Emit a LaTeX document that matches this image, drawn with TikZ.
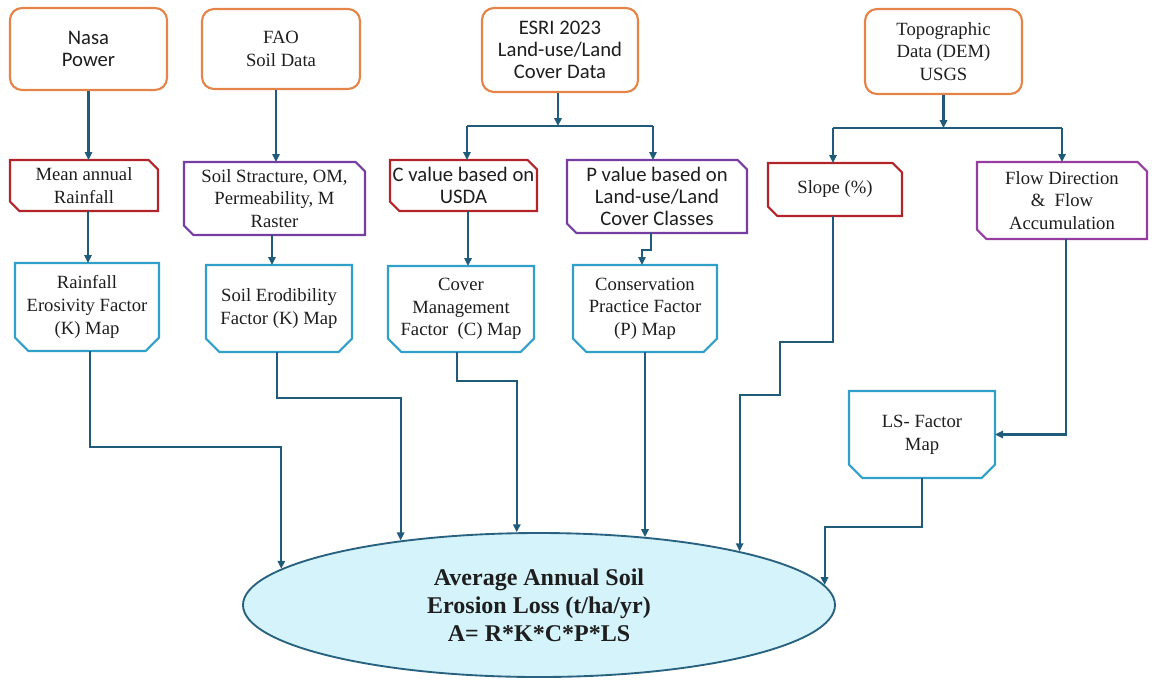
\documentclass[tikz,border=0pt]{standalone}
\usepackage{fontspec}
\setmainfont{Liberation Serif}
\newfontfamily\carl{Carlito}
\usetikzlibrary{shapes.geometric,arrows.meta,calc}
\definecolor{orng}{RGB}{228,132,72}
\definecolor{dred}{RGB}{178,36,42}
\definecolor{purp}{RGB}{118,62,162}
\definecolor{magp}{RGB}{150,62,160}
\definecolor{cyn}{RGB}{48,160,200}
\definecolor{lnk}{RGB}{32,92,122}
\definecolor{ellf}{RGB}{212,243,250}
\definecolor{elld}{RGB}{40,98,128}
\definecolor{txt}{RGB}{30,30,30}
\newcommand\tagshape[2]{% node, colour: corners cut at north east and south west
  \draw[line width=1.6pt,draw=#2,line join=miter] (#1.north west) -- ([xshift=-7pt]#1.north east) -- ([yshift=-7pt]#1.north east) -- (#1.south east) -- ([xshift=7pt]#1.south west) -- ([yshift=7pt]#1.south west) -- cycle;}
\newcommand\mapshape[1]{% node: corners cut at south east and south west
  \draw[line width=1.6pt,draw=cyn,line join=miter] (#1.north west) -- (#1.north east) -- ([yshift=10pt]#1.south east) -- ([xshift=-10pt]#1.south east) -- ([xshift=10pt]#1.south west) -- ([yshift=10pt]#1.south west) -- cycle;}
\begin{document}
\begin{tikzpicture}[x=0.75pt,y=-0.75pt,
  src/.style={rectangle,draw=orng,line width=1.6pt,rounded corners=9pt,fill=white,inner sep=2pt,align=center,text=txt},
  plain/.style={rectangle,draw=none,outer sep=0pt,inner sep=0pt,align=center,text=txt},
  ser/.style={font=\fontsize{14}{17}\selectfont},
  sans/.style={font=\carl\fontsize{15.5}{16.5}\selectfont},
  link/.style={draw=lnk,line width=1.6pt},
  arr/.style={link,-{Triangle[length=6pt,width=5.5pt]}}]
\useasboundingbox (0,0) rectangle (1152,679);
% top row
\node[src,sans,minimum width=117.75pt,minimum height=61.5pt] (nasa) at (88.5,49) {Nasa\\Power};
\node[src,ser,minimum width=118.5pt,minimum height=60pt] (fao) at (281,49) {FAO\\Soil Data};
\node[src,sans,minimum width=117pt,minimum height=63pt] (esri) at (560,50) {ESRI 2023\\Land-use/Land\\Cover Data};
\node[src,ser,minimum width=117.75pt,minimum height=63.75pt] (topo) at (943.5,51.5) {Topographic\\Data (DEM)\\USGS};
% second row
\node[plain,ser,minimum width=111pt,minimum height=38.25pt] (mean) at (84,185.5) {Mean annual\\Rainfall};
\node[plain,ser,minimum width=135.75pt,minimum height=54.75pt] (soilst) at (274.5,198.5) {Soil Stracture, OM,\\Permeability, M\\Raster};
\node[plain,sans,minimum width=110.25pt,minimum height=38.25pt] (cval) at (463.5,185.5) {C value based on\\USDA};
\node[plain,sans,minimum width=135pt,minimum height=54.75pt] (pval) at (657,196.5) {P value based on\\Land-use/Land\\Cover Classes};
\node[plain,ser,minimum width=100.5pt,minimum height=39.75pt] (slope) at (835,189.5) {Slope (\%)};
\node[plain,ser,minimum width=127.5pt,minimum height=57.75pt] (flow) at (1062,200.5) {Flow Direction\\\& \ Flow\\Accumulation};
\tagshape{mean}{dred}
\tagshape{soilst}{purp}
\tagshape{cval}{dred}
\tagshape{pval}{purp}
\tagshape{slope}{dred}
\tagshape{flow}{magp}
% third row
\node[plain,ser,minimum width=108pt,minimum height=66pt] (rain) at (87,307) {Rainfall\\Erosivity Factor\\(K) Map};
\node[plain,ser,minimum width=109.5pt,minimum height=65.25pt] (erod) at (279,308.5) {Soil Erodibility\\Factor (K) Map};
\node[plain,ser,minimum width=109.5pt,minimum height=64.5pt] (cover) at (461,309) {Cover\\Management\\Factor \ (C) Map};
\node[plain,ser,minimum width=108pt,minimum height=65.25pt] (cons) at (645,308.5) {Conservation\\Practice Factor\\(P) Map};
\node[plain,ser,minimum width=109.5pt,minimum height=65.25pt] (ls) at (922,434.5) {LS- Factor\\Map};
\mapshape{rain}
\mapshape{erod}
\mapshape{cover}
\mapshape{cons}
\mapshape{ls}
% result
\node[ellipse,draw=elld,fill=ellf,line width=1.4pt,inner sep=0pt,minimum width=444pt,minimum height=108pt,align=center,text=txt,font=\bfseries\fontsize{18}{21}\selectfont] (ell) at (539,605) {Average Annual Soil\\Erosion Loss (t/ha/yr)\\A= R*K*C*P*LS};
% connectors top
\draw[arr] (nasa.south) -- (nasa.south |- mean.north);
\draw[arr] ([xshift=-3.75pt]fao.south) -- ([xshift=-3.75pt]fao.south |- soilst.north);
\draw[arr] ([xshift=-1.5pt]esri.south) -- ++(0,33) coordinate (ej);
\draw[link] ([xshift=2.6pt]cval.north |- ej) -- ([xshift=-3pt]pval.north |- ej);
\draw[arr] ([xshift=2.6pt]cval.north |- ej) -- ([xshift=2.6pt]cval.north);
\draw[arr] ([xshift=-3pt]pval.north |- ej) -- ([xshift=-3pt]pval.north);
\draw[arr] (topo.south) -- ++(0,33) coordinate (tj);
\draw[link] ([xshift=-1.5pt]slope.north |- tj) -- (flow.north |- tj);
\draw[arr] ([xshift=-1.5pt]slope.north |- tj) -- ([xshift=-1.5pt]slope.north);
\draw[arr] (flow.north |- tj) -- (flow.north);
% second to third row
\draw[arr] ([xshift=3pt]mean.south) -- ([xshift=3pt]mean.south |- rain.north);
\draw[arr] ([xshift=-1.9pt]soilst.south) -- ([xshift=-1.9pt]soilst.south |- erod.north);
\draw[arr] ([xshift=3.4pt]cval.south) -- ([xshift=3.4pt]cval.south |- cover.north);
\draw[arr] ([xshift=-4.5pt]pval.south) -- ++(0,17) -| ([xshift=-2.25pt]cons.north);
\draw[arr] ([xshift=3pt]flow.south) |- (ls.east);
% into result
\draw[arr] ([xshift=2.25pt]rain.south) -- ++(0,96) -| (ell.172);
\draw[arr] ([xshift=-1.5pt]erod.south) -- ++(0,46) -| (ell.155);
\draw[arr] ([xshift=-3pt]cover.south) -- ++(0,29) -| (ell.107);
\draw[arr] (cons.south) -- (cons.south |- ell.32);
\draw[arr] ([xshift=-1.5pt]slope.south) -- ++(0,126) -- ++(-53,0) -- ++(0,53) -| (ell.15);
\draw[arr] (ls.south) -- ++(0,49) -| (ell.4);
\end{tikzpicture}
\end{document}
